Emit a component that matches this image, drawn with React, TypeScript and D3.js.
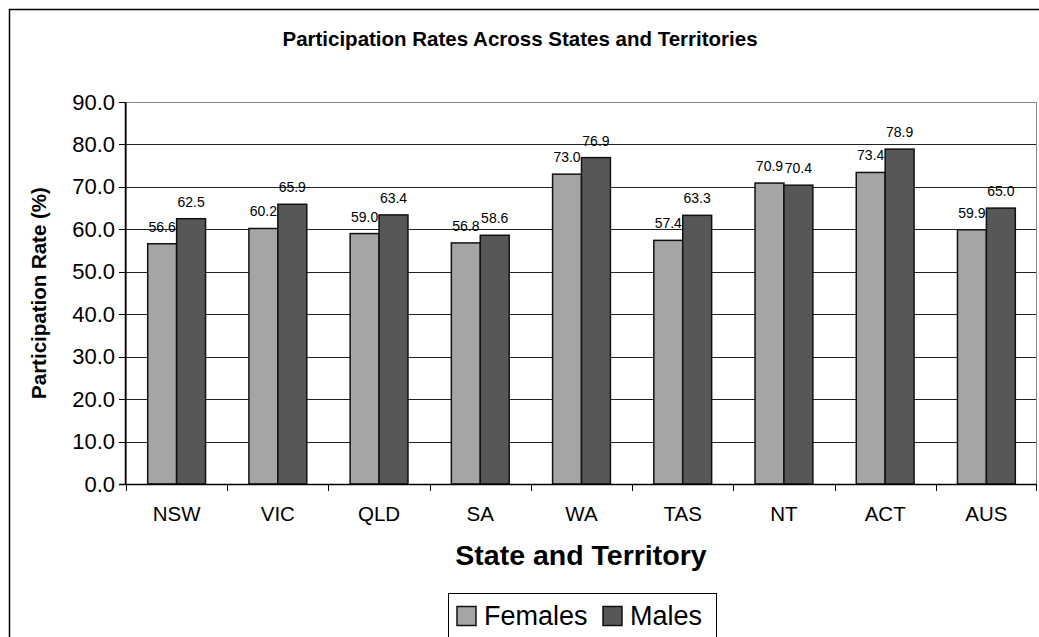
import * as d3 from 'd3';

const states = ['NSW', 'VIC', 'QLD', 'SA', 'WA', 'TAS', 'NT', 'ACT', 'AUS'];
const females = [56.6, 60.2, 59.0, 56.8, 73.0, 57.4, 70.9, 73.4, 59.9];
const males = [62.5, 65.9, 63.4, 58.6, 76.9, 63.3, 70.4, 78.9, 65.0];
const seriesNames = ['Females', 'Males'];
const seriesColors = ['#a5a5a5', '#575757'];
const yTicks = [0, 10, 20, 30, 40, 50, 60, 70, 80, 90];

const FONT = '"Liberation Sans", Arial, Helvetica, sans-serif';

export default function App() {
  const W = 1039;
  const H = 637;
  const plot = { left: 126, top: 102, right: 1037, bottom: 484 };

  const x = d3.scaleBand().domain(states).range([plot.left, plot.right]).padding(0);
  const xs = d3
    .scaleBand()
    .domain(seriesNames)
    .range([0, x.bandwidth()])
    .paddingInner(0)
    .paddingOuter(0.75);
  const y = d3.scaleLinear().domain([0, 90]).range([plot.bottom, plot.top]);

  const series = [females, males];
  const crisp = (v: number) => Math.round(v) + 0.5;

  return (
    <svg
      width={W}
      height={H}
      style={{ position: 'absolute', left: 0, top: 0, background: '#fff' }}
      fontFamily={FONT}
    >
      {/* outer chart border */}
      <rect x={9.5} y={9.5} width={W + 10} height={H + 10} fill="#fff" stroke="#000" strokeWidth={1.5} />

      {/* title */}
      <text x={520} y={46} textAnchor="middle" fontSize={20.5} fontWeight="bold">
        Participation Rates Across States and Territories
      </text>

      {/* plot area border (gray) */}
      <rect
        x={plot.left + 0.5}
        y={plot.top + 0.5}
        width={plot.right - plot.left - 1}
        height={plot.bottom - plot.top}
        fill="#fff"
        stroke="#888"
        strokeWidth={1}
      />

      {/* gridlines */}
      {yTicks.filter(t => t > 0).map(t => (
        <line
          key={'g' + t}
          x1={plot.left}
          x2={plot.right - 1}
          y1={crisp(y(t))}
          y2={crisp(y(t))}
          stroke={t === 90 ? '#888' : '#222'}
          strokeWidth={1}
        />
      ))}

      {/* bars */}
      {states.map((s, i) => (
        <g key={s} transform={`translate(${x(s)},0)`}>
          {series.map((vals, j) => (
            <rect
              key={seriesNames[j]}
              x={xs(seriesNames[j])}
              y={y(vals[i])}
              width={xs.bandwidth()}
              height={plot.bottom - y(vals[i])}
              fill={seriesColors[j]}
              stroke="#111"
              strokeWidth={1.5}
            />
          ))}
        </g>
      ))}

      {/* data labels */}
      {states.map((s, i) =>
        series.map((vals, j) => (
          <text
            key={s + j}
            x={(x(s) as number) + (xs(seriesNames[j]) as number) + xs.bandwidth() / 2}
            y={y(vals[i]) - 12}
            textAnchor="middle"
            fontSize={14}
            fill="#000"
          >
            {vals[i].toFixed(1)}
          </text>
        ))
      )}

      {/* y axis */}
      <line x1={crisp(plot.left) - 1} x2={crisp(plot.left) - 1} y1={plot.top} y2={plot.bottom} stroke="#000" strokeWidth={1.5} />
      {yTicks.map(t => (
        <g key={'y' + t}>
          <line x1={plot.left - 7} x2={plot.left} y1={crisp(y(t))} y2={crisp(y(t))} stroke="#000" />
          <text x={115} y={y(t) + 7.5} textAnchor="end" fontSize={22}>
            {t.toFixed(1)}
          </text>
        </g>
      ))}

      {/* x axis */}
      <line x1={plot.left - 7} x2={plot.right} y1={crisp(plot.bottom)} y2={crisp(plot.bottom)} stroke="#000" strokeWidth={1.5} />
      {[...states.map(s => x(s) as number), plot.right - 1].map((px, k) => (
        <line key={'xt' + k} x1={crisp(px)} x2={crisp(px)} y1={plot.bottom} y2={plot.bottom + 7} stroke="#000" />
      ))}
      {states.map(s => (
        <text key={'xl' + s} x={(x(s) as number) + x.bandwidth() / 2} y={521} textAnchor="middle" fontSize={20.5}>
          {s}
        </text>
      ))}

      {/* axis titles */}
      <text x={581} y={565} textAnchor="middle" fontSize={28.5} fontWeight="bold">
        State and Territory
      </text>
      <text
        transform={`translate(46,${(plot.top + plot.bottom) / 2}) rotate(-90)`}
        textAnchor="middle"
        fontSize={20.5}
        fontWeight="bold"
      >
        Participation Rate (%)
      </text>

      {/* legend */}
      <rect x={448.5} y={593.5} width={268} height={44} fill="#fff" stroke="#000" strokeWidth={1} />
      {seriesNames.map((name, j) => {
        const lx = j === 0 ? 457 : 603;
        return (
          <g key={'leg' + name}>
            <rect x={lx} y={606.5} width={19} height={19} fill={seriesColors[j]} stroke="#111" strokeWidth={1.5} />
            <text x={lx + 27} y={625} fontSize={27}>
              {name}
            </text>
          </g>
        );
      })}
    </svg>
  );
}
